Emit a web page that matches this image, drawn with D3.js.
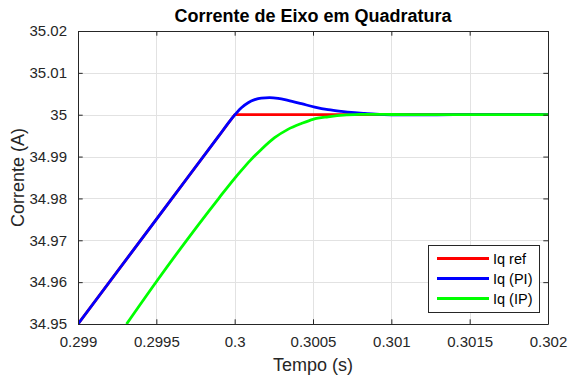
<!DOCTYPE html>
<html>
<head>
<meta charset="utf-8">
<script src="https://cdn.jsdelivr.net/npm/d3@7"></script>
<style>
  html, body { margin: 0; padding: 0; background: #fff; }
  svg { display: block; font-family: "Liberation Sans", Arial, Helvetica, sans-serif; }
</style>
</head>
<body>
<svg id="chart" width="568" height="376"></svg>
<script>
// Axis ticks
const xTicks = [0.299, 0.2995, 0.3, 0.3005, 0.301, 0.3015, 0.302];
const xTickLabels = ["0.299", "0.2995", "0.3", "0.3005", "0.301", "0.3015", "0.302"];
const yTicks = [34.95, 34.96, 34.97, 34.98, 34.99, 35, 35.01, 35.02];
const yTickLabels = ["34.95", "34.96", "34.97", "34.98", "34.99", "35", "35.01", "35.02"];

// Series: time (s) and current (A)
const seriesNames = ["Iq ref", "Iq (PI)", "Iq (IP)"];
const seriesColors = ["#ff0000", "#0000ff", "#00ff00"];

const refTime = [0.299, 0.3, 0.302];
const refValue = [34.95, 35.0, 35.0];

const piTime = [0.299, 0.2995, 0.2999, 0.29998, 0.300043, 0.300086, 0.300128, 0.30017, 0.300223,
  0.300277, 0.30034, 0.300426, 0.300511, 0.300596, 0.300681, 0.300766, 0.30083,
  0.3009, 0.301, 0.3011, 0.3012, 0.3014, 0.302];
const piValue = [34.95, 34.975, 34.995, 34.999, 35.00167, 35.00287, 35.00359, 35.00397, 35.00407,
  35.0039, 35.00342, 35.00263, 35.00182, 35.0012, 35.00079, 35.00048, 35.0003,
  35.00012, 34.99998, 34.99995, 34.99996, 35.0, 35.0];

const ipTime = [0.29931, 0.2995, 0.2999, 0.3, 0.30005, 0.3001, 0.30017, 0.300255,
  0.30034, 0.300426, 0.3005, 0.300596, 0.300715, 0.3008, 0.3009, 0.301, 0.3012, 0.302];
const ipValue = [34.95, 34.9601, 34.9801, 34.9848, 34.987, 34.9891, 34.9917, 34.9945,
  34.9965, 34.9979, 34.9989, 34.9995, 34.99995, 35.0001, 35.0001, 35.00005, 35.0, 35.0];

const W = 568, H = 376;
const margin = { left: 78, right: 20, top: 31, bottom: 52 };
const x0 = margin.left, x1 = W - margin.right;
const y0 = margin.top, y1 = H - margin.bottom;

const axisColor = "#262626";
const gridColor = "#e2e2e2";
const tickLen = 4.7;

const svg = d3.select("#chart");

const x = d3.scaleLinear().domain([0.299, 0.302]).range([x0, x1]);
const y = d3.scaleLinear().domain([34.95, 35.02]).range([y1, y0]);

// Grid
const grid = svg.append("g");
grid.selectAll("line.gx").data(xTicks).join("line")
  .attr("x1", d => Math.round(x(d)) + 0.5).attr("x2", d => Math.round(x(d)) + 0.5)
  .attr("y1", y0).attr("y2", y1)
  .attr("stroke", gridColor).attr("stroke-width", 1);
grid.selectAll("line.gy").data(yTicks).join("line")
  .attr("y1", d => Math.round(y(d)) + 0.5).attr("y2", d => Math.round(y(d)) + 0.5)
  .attr("x1", x0).attr("x2", x1)
  .attr("stroke", gridColor).attr("stroke-width", 1);

// Curves
svg.append("defs").append("clipPath").attr("id", "plotClip")
  .append("rect").attr("x", x0).attr("y", y0).attr("width", x1 - x0).attr("height", y1 - y0);

const line = d3.line()
  .x(d => x(d[0])).y(d => y(d[1]))
  .curve(d3.curveMonotoneX);
const refLine = d3.line().x(d => x(d[0])).y(d => y(d[1]));

const series = [
  { pts: d3.zip(refTime, refValue), gen: refLine },
  { pts: d3.zip(piTime, piValue), gen: line },
  { pts: d3.zip(ipTime, ipValue), gen: line }
];

const plot = svg.append("g").attr("clip-path", "url(#plotClip)");
series.forEach((s, i) => {
  plot.append("path")
    .attr("d", s.gen(s.pts))
    .attr("fill", "none")
    .attr("stroke", seriesColors[i])
    .attr("stroke-width", 2.8)
    .attr("stroke-linejoin", "round");
});

// Axes (box with inward ticks on all sides)
const xAxisB = d3.axisBottom(x).tickValues(xTicks).tickFormat((d, i) => xTickLabels[i])
  .tickSizeInner(-tickLen).tickSizeOuter(0).tickPadding(12);
const xAxisT = d3.axisTop(x).tickValues(xTicks).tickFormat("")
  .tickSizeInner(-tickLen).tickSizeOuter(0);
const yAxisL = d3.axisLeft(y).tickValues(yTicks).tickFormat((d, i) => yTickLabels[i])
  .tickSizeInner(-tickLen).tickSizeOuter(0).tickPadding(11);
const yAxisR = d3.axisRight(y).tickValues(yTicks).tickFormat("")
  .tickSizeInner(-tickLen).tickSizeOuter(0);

function styleAxis(g) {
  g.select(".domain").attr("stroke", axisColor).attr("stroke-width", 1);
  g.selectAll(".tick line").attr("stroke", axisColor);
  g.selectAll(".tick text").attr("fill", axisColor)
    .style("font-size", "15px").style("font-family", "'Liberation Sans', Arial, sans-serif");
}

svg.append("g").attr("transform", `translate(0,${y1})`).call(xAxisB).call(styleAxis);
svg.append("g").attr("transform", `translate(0,${y0})`).call(xAxisT).call(styleAxis);
svg.append("g").attr("transform", `translate(${x0},0)`).call(yAxisL).call(styleAxis);
svg.append("g").attr("transform", `translate(${x1},0)`).call(yAxisR).call(styleAxis);

// Title and axis labels
svg.append("text")
  .attr("x", (x0 + x1) / 2).attr("y", 22)
  .attr("text-anchor", "middle")
  .attr("fill", "#000")
  .style("font-size", "18px").style("font-weight", "bold")
  .text("Corrente de Eixo em Quadratura");

svg.append("text")
  .attr("x", (x0 + x1) / 2).attr("y", 371)
  .attr("text-anchor", "middle")
  .attr("fill", axisColor)
  .style("font-size", "18px")
  .text("Tempo (s)");

svg.append("text")
  .attr("transform", `translate(24,${(y0 + y1) / 2}) rotate(-90)`)
  .attr("text-anchor", "middle")
  .attr("fill", axisColor)
  .style("font-size", "18px")
  .text("Corrente (A)");

// Legend
const lg = { x: 428, y: 245, w: 111, h: 67 };
const legend = svg.append("g");
legend.append("rect")
  .attr("x", lg.x + 0.5).attr("y", lg.y + 0.5).attr("width", lg.w).attr("height", lg.h)
  .attr("fill", "#fff").attr("stroke", axisColor).attr("stroke-width", 1);
seriesNames.forEach((name, i) => {
  const cy = lg.y + 13.5 + i * 20;
  legend.append("line")
    .attr("x1", lg.x + 9).attr("x2", lg.x + 61)
    .attr("y1", cy).attr("y2", cy)
    .attr("stroke", seriesColors[i]).attr("stroke-width", 2.8);
  legend.append("text")
    .attr("x", lg.x + 65).attr("y", cy)
    .attr("dy", "0.35em")
    .attr("fill", "#000")
    .style("font-size", "14.5px")
    .text(name);
});
</script>
</body>
</html>
